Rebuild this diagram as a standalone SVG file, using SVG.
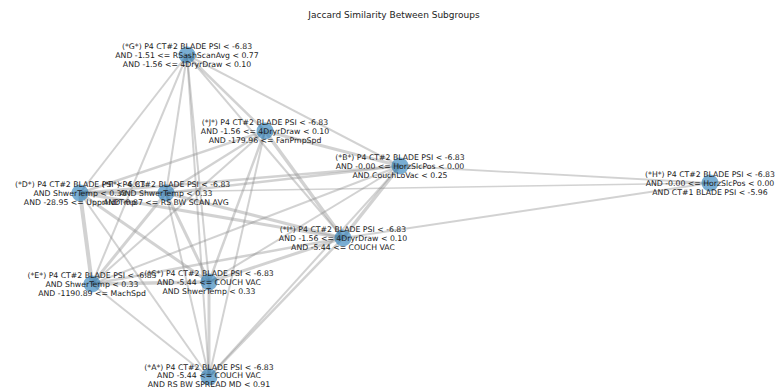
<svg xmlns="http://www.w3.org/2000/svg" width="776" height="389" viewBox="0 0 776 389">
<style>
.e{stroke:#8a8a8a;stroke-opacity:0.38;stroke-linecap:butt;fill:none}
.n{fill:#1f77b4;fill-opacity:0.6}
.t{font-family:"DejaVu Sans",sans-serif;font-size:7.75px;fill:#222;text-anchor:middle}
.title{font-family:"DejaVu Sans",sans-serif;font-size:9px;fill:#222;text-anchor:middle}
</style>
<rect width="776" height="389" fill="#fff"/>
<text class="title" x="394" y="18">Jaccard Similarity Between Subgroups</text>
<g id="edges">
<line class="e" x1="209" y1="377" x2="400" y2="166" stroke-width="2"/>
<line class="e" x1="209" y1="377" x2="209" y2="282" stroke-width="3"/>
<line class="e" x1="209" y1="377" x2="80" y2="193" stroke-width="2"/>
<line class="e" x1="209" y1="377" x2="92" y2="284" stroke-width="2"/>
<line class="e" x1="209" y1="377" x2="166" y2="193" stroke-width="2"/>
<line class="e" x1="209" y1="377" x2="187" y2="55" stroke-width="2"/>
<line class="e" x1="209" y1="377" x2="343" y2="238" stroke-width="2.5"/>
<line class="e" x1="209" y1="377" x2="265" y2="131" stroke-width="2"/>
<line class="e" x1="400" y1="166" x2="209" y2="282" stroke-width="2"/>
<line class="e" x1="400" y1="166" x2="80" y2="193" stroke-width="2.5"/>
<line class="e" x1="400" y1="166" x2="92" y2="284" stroke-width="2"/>
<line class="e" x1="400" y1="166" x2="166" y2="193" stroke-width="2.5"/>
<line class="e" x1="400" y1="166" x2="187" y2="55" stroke-width="2"/>
<line class="e" x1="400" y1="166" x2="343" y2="238" stroke-width="3.5"/>
<line class="e" x1="400" y1="166" x2="265" y2="131" stroke-width="3"/>
<line class="e" x1="209" y1="282" x2="80" y2="193" stroke-width="3"/>
<line class="e" x1="209" y1="282" x2="92" y2="284" stroke-width="3.5"/>
<line class="e" x1="209" y1="282" x2="166" y2="193" stroke-width="3"/>
<line class="e" x1="209" y1="282" x2="187" y2="55" stroke-width="2"/>
<line class="e" x1="209" y1="282" x2="343" y2="238" stroke-width="3"/>
<line class="e" x1="209" y1="282" x2="265" y2="131" stroke-width="2.5"/>
<line class="e" x1="80" y1="193" x2="92" y2="284" stroke-width="4"/>
<line class="e" x1="80" y1="193" x2="166" y2="193" stroke-width="3.5"/>
<line class="e" x1="80" y1="193" x2="187" y2="55" stroke-width="2"/>
<line class="e" x1="80" y1="193" x2="343" y2="238" stroke-width="3"/>
<line class="e" x1="80" y1="193" x2="265" y2="131" stroke-width="2.5"/>
<line class="e" x1="92" y1="284" x2="166" y2="193" stroke-width="3"/>
<line class="e" x1="92" y1="284" x2="187" y2="55" stroke-width="2"/>
<line class="e" x1="92" y1="284" x2="343" y2="238" stroke-width="2.5"/>
<line class="e" x1="92" y1="284" x2="265" y2="131" stroke-width="2"/>
<line class="e" x1="166" y1="193" x2="187" y2="55" stroke-width="2"/>
<line class="e" x1="166" y1="193" x2="343" y2="238" stroke-width="3"/>
<line class="e" x1="166" y1="193" x2="265" y2="131" stroke-width="2.5"/>
<line class="e" x1="187" y1="55" x2="343" y2="238" stroke-width="2"/>
<line class="e" x1="187" y1="55" x2="265" y2="131" stroke-width="2.5"/>
<line class="e" x1="343" y1="238" x2="265" y2="131" stroke-width="3.5"/>
<line class="e" x1="710" y1="183" x2="400" y2="166" stroke-width="1.8"/>
<line class="e" x1="710" y1="183" x2="343" y2="238" stroke-width="1.8"/>
<line class="e" x1="710" y1="183" x2="80" y2="193" stroke-width="1.5"/>
</g>
<g id="node-G"><circle class="n" cx="187" cy="55" r="8.5"/><text class="t" x="187" y="48.8">(*G*) P4 CT#2 BLADE PSI &lt; -6.83</text><text class="t" x="187" y="57.8">AND -1.51 &lt;= RSashScanAvg &lt; 0.77</text><text class="t" x="187" y="66.8">AND -1.56 &lt;= 4DryrDraw &lt; 0.10</text></g>
<g id="node-J"><circle class="n" cx="265" cy="131" r="8.5"/><text class="t" x="265" y="124.8">(*J*) P4 CT#2 BLADE PSI &lt; -6.83</text><text class="t" x="265" y="133.8">AND -1.56 &lt;= 4DryrDraw &lt; 0.10</text><text class="t" x="265" y="142.8">AND -179.96 &lt;= FanPmpSpd</text></g>
<g id="node-B"><circle class="n" cx="400" cy="166" r="8.5"/><text class="t" x="400" y="159.8">(*B*) P4 CT#2 BLADE PSI &lt; -6.83</text><text class="t" x="400" y="168.8">AND -0.00 &lt;= HorzSlcPos &lt; 0.00</text><text class="t" x="400" y="177.8">AND CouchLoVac &lt; 0.25</text></g>
<g id="node-H"><circle class="n" cx="710" cy="183" r="8.5"/><text class="t" x="710" y="176.8">(*H*) P4 CT#2 BLADE PSI &lt; -6.83</text><text class="t" x="710" y="185.8">AND -0.00 &lt;= HorzSlcPos &lt; 0.00</text><text class="t" x="710" y="194.8">AND CT#1 BLADE PSI &lt; -5.96</text></g>
<g id="node-D"><circle class="n" cx="80" cy="193" r="8.5"/><text class="t" x="80" y="186.8">(*D*) P4 CT#2 BLADE PSI &lt; -6.83</text><text class="t" x="80" y="195.8">AND ShwerTemp &lt; 0.33</text><text class="t" x="80" y="204.8">AND -28.95 &lt;= UpprHdrTmp</text></g>
<g id="node-F"><circle class="n" cx="166" cy="193" r="8.5"/><text class="t" x="166" y="186.8">(*F*) P4 CT#2 BLADE PSI &lt; -6.83</text><text class="t" x="166" y="195.8">AND ShwerTemp &lt; 0.33</text><text class="t" x="166" y="204.8">AND -0.87 &lt;= RS BW SCAN AVG</text></g>
<g id="node-I"><circle class="n" cx="343" cy="238" r="8.5"/><text class="t" x="343" y="231.8">(*I*) P4 CT#2 BLADE PSI &lt; -6.83</text><text class="t" x="343" y="240.8">AND -1.56 &lt;= 4DryrDraw &lt; 0.10</text><text class="t" x="343" y="249.8">AND -5.44 &lt;= COUCH VAC</text></g>
<g id="node-E"><circle class="n" cx="92" cy="284" r="8.5"/><text class="t" x="92" y="277.8">(*E*) P4 CT#2 BLADE PSI &lt; -6.83</text><text class="t" x="92" y="286.8">AND ShwerTemp &lt; 0.33</text><text class="t" x="92" y="295.8">AND -1190.89 &lt;= MachSpd</text></g>
<g id="node-C"><circle class="n" cx="209" cy="282" r="8.5"/><text class="t" x="209" y="275.8">(*C*) P4 CT#2 BLADE PSI &lt; -6.83</text><text class="t" x="209" y="284.8">AND -5.44 &lt;= COUCH VAC</text><text class="t" x="209" y="293.8">AND ShwerTemp &lt; 0.33</text></g>
<g id="node-A"><circle class="n" cx="209" cy="377" r="8.5"/><text class="t" x="209" y="369.8">(*A*) P4 CT#2 BLADE PSI &lt; -6.83</text><text class="t" x="209" y="378.3">AND -5.44 &lt;= COUCH VAC</text><text class="t" x="209" y="386.6">AND RS BW SPREAD MD &lt; 0.91</text></g>
</svg>
